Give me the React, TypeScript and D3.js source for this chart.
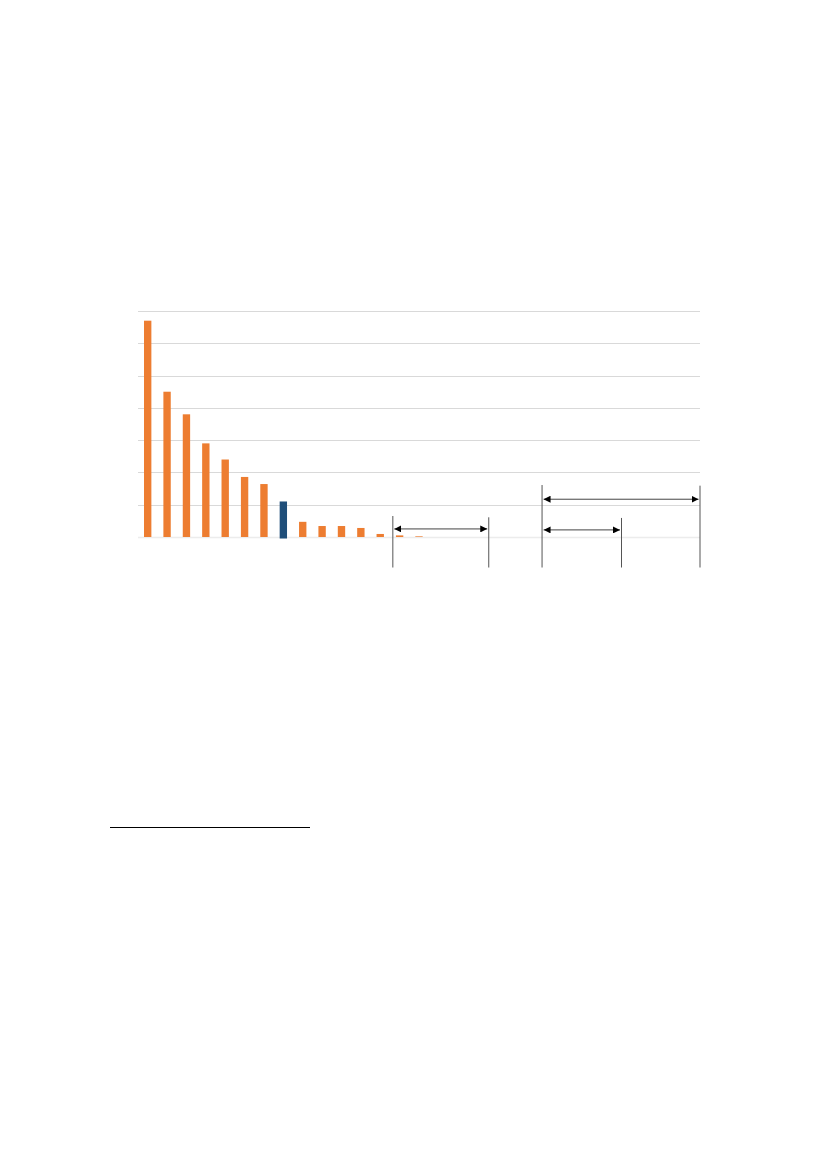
import * as d3 from 'd3'

// categories (labels not shown in the picture), 29 slots along the axis
const categories = d3.range(29).map((i) => `c${i + 1}`)
const values = [
  33.5, 22.5, 19.0, 14.5, 12.0, 9.3, 8.2, 5.5, 2.35, 1.7, 1.7, 1.4, 0.47, 0.25, 0.1,
]
const highlighted = ['c8']
const yTicks = [0, 5, 10, 15, 20, 25, 30, 35]

// bracket annotations in category-index units (heights in grid steps)
const brackets = [
  { from: 13.15, to: 18.1, arrowY: 0.25 },
  { from: 20.85, to: 24.95, arrowY: 0.22 },
  { from: 20.85, to: 29, arrowY: 1.17 },
]
const bracketTops = [
  { at: 13.15, top: 0.65 },
  { at: 18.1, top: 0.61 },
  { at: 20.85, top: 1.61 },
  { at: 24.95, top: 0.59 },
  { at: 29, top: 1.59 },
]

const W = 827
const H = 1169
const margin = { left: 138, right: 127, top: 311, bottom: 632 }

export default function App() {
  const innerW = W - margin.left - margin.right
  const x = d3
    .scaleBand<string>()
    .domain(categories)
    .range([margin.left, margin.left + innerW])
    .paddingInner(0.62)
    .paddingOuter(0.31)
  const xi = d3
    .scaleLinear()
    .domain([0, categories.length])
    .range([margin.left, margin.left + innerW])
  const y = d3
    .scaleLinear()
    .domain([0, 35])
    .range([H - margin.bottom, margin.top])
  const unit = (v: number) => y(v * 5)
  const bottomY = y(0) + 30.5

  return (
    <svg
      width={W}
      height={H}
      style={{ position: 'absolute', left: 0, top: 0, background: '#fff' }}
    >
      <defs>
        <marker
          id="ah"
          viewBox="0 0 10 10"
          refX="10"
          refY="5"
          markerWidth="7"
          markerHeight="7"
          markerUnits="userSpaceOnUse"
          orient="auto-start-reverse"
        >
          <path d="M0,0 L10,5 L0,10 z" fill="#000" />
        </marker>
      </defs>

      {/* gridlines */}
      {yTicks.slice(1).map((t) => (
        <line
          key={t}
          x1={margin.left}
          x2={margin.left + innerW}
          y1={Math.round(y(t)) + 0.5}
          y2={Math.round(y(t)) + 0.5}
          stroke="#d9d9d9"
          strokeWidth={1}
        />
      ))}

      {/* baseline */}
      <line
        x1={margin.left}
        x2={margin.left + innerW}
        y1={y(0) + 0.5}
        y2={y(0) + 0.5}
        stroke="#ececec"
        strokeWidth={1.5}
      />

      {/* bars */}
      {values.map((v, i) => {
        const c = categories[i]
        const hi = highlighted.includes(c)
        return (
          <rect
            key={c}
            x={x(c)}
            y={y(v)}
            width={x.bandwidth()}
            height={y(0) - y(v) + (hi ? 1.5 : 0)}
            fill={hi ? '#1f4e79' : '#ed7d31'}
          />
        )
      })}

      {/* bracket verticals */}
      {bracketTops.map((b, i) => (
        <line
          key={i}
          x1={xi(b.at)}
          x2={xi(b.at)}
          y1={unit(b.top)}
          y2={bottomY}
          stroke="#555"
          strokeWidth={1}
        />
      ))}

      {/* double arrows */}
      {brackets.map((b, i) => (
        <line
          key={i}
          x1={xi(b.from) + 1.5}
          x2={xi(b.to) - 1.5}
          y1={unit(b.arrowY)}
          y2={unit(b.arrowY)}
          stroke="#444"
          strokeWidth={1}
          markerStart="url(#ah)"
          markerEnd="url(#ah)"
        />
      ))}

      {/* footnote rule */}
      <line x1={110} x2={310} y1={827.5} y2={827.5} stroke="#000" strokeWidth={1.2} />
    </svg>
  )
}
